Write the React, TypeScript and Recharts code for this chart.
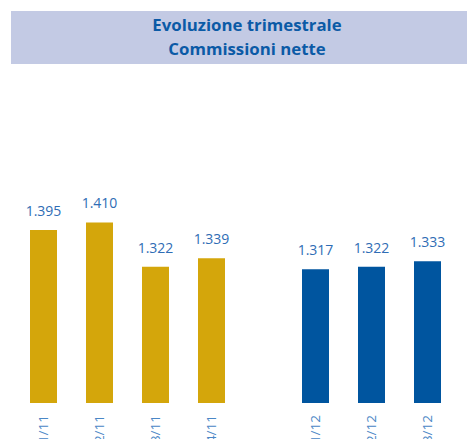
import { BarChart, Bar, XAxis, YAxis, LabelList } from 'recharts';

const quarters2011 = ['1/11', '2/11', '3/11', '4/11'];
const commissions2011 = [1395, 1410, 1322, 1339];
const quarters2012 = ['1/12', '2/12', '3/12'];
const commissions2012 = [1317, 1322, 1333];

const FONT = '"Open Sans", sans-serif';
const GOLD = '#d4a60b';
const BLUE = '#00559f';

// italian style: 1395 -> "1.395"
const fmt = (v: any) => (Number(v) / 1000).toFixed(3);

const RotatedTick = (props: any) => {
  const { x, y, payload } = props;
  return (
    <text
      x={x}
      y={y}
      dy="0.35em"
      textAnchor="end"
      transform={`rotate(-90, ${x}, ${y})`}
      fill="#4a87c6"
      fontSize={13.5}
      fontFamily={FONT}
    >
      {payload.value}
    </text>
  );
};

function QuarterBars({ cats, values, color, left, width }: { cats: string[]; values: number[]; color: string; left: number; width: number }) {
  const data = cats.map((q, i) => ({ q, v: values[i] }));
  return (
    <div style={{ position: 'absolute', left, top: 150 }}>
      <BarChart width={width} height={289} data={data} margin={{ top: 27, right: 0, left: 0, bottom: 0 }}>
        <XAxis dataKey="q" axisLine={false} tickLine={false} tickSize={0} tickMargin={12} height={36} tick={<RotatedTick />} interval={0} />
        <YAxis hide domain={[1052, 1500]} allowDataOverflow />
        <Bar dataKey="v" fill={color} barSize={27} isAnimationActive={false}>
          <LabelList dataKey="v" position="top" offset={14} formatter={fmt} fill="#2f6db5" fontSize={14} fontFamily={FONT} />
        </Bar>
      </BarChart>
    </div>
  );
}

export default function App() {
  return (
    <div style={{ position: 'absolute', left: 0, top: 0, width: 467, height: 439, overflow: 'hidden', background: '#fff' }}>
      <div
        style={{
          position: 'absolute', left: 11, top: 11, width: 472, height: 52.5, background: '#c3cae4',
          color: '#0b5aa6', fontFamily: FONT, fontWeight: 700, fontSize: 16.8, lineHeight: '24px',
          textAlign: 'center', paddingTop: 2, boxSizing: 'border-box',
        }}
      >
        <div>Evoluzione trimestrale</div>
        <div>Commissioni nette</div>
      </div>
      <QuarterBars cats={quarters2011} values={commissions2011} color={GOLD} left={15} width={224} />
      <QuarterBars cats={quarters2012} values={commissions2012} color={BLUE} left={287} width={168} />
    </div>
  );
}
